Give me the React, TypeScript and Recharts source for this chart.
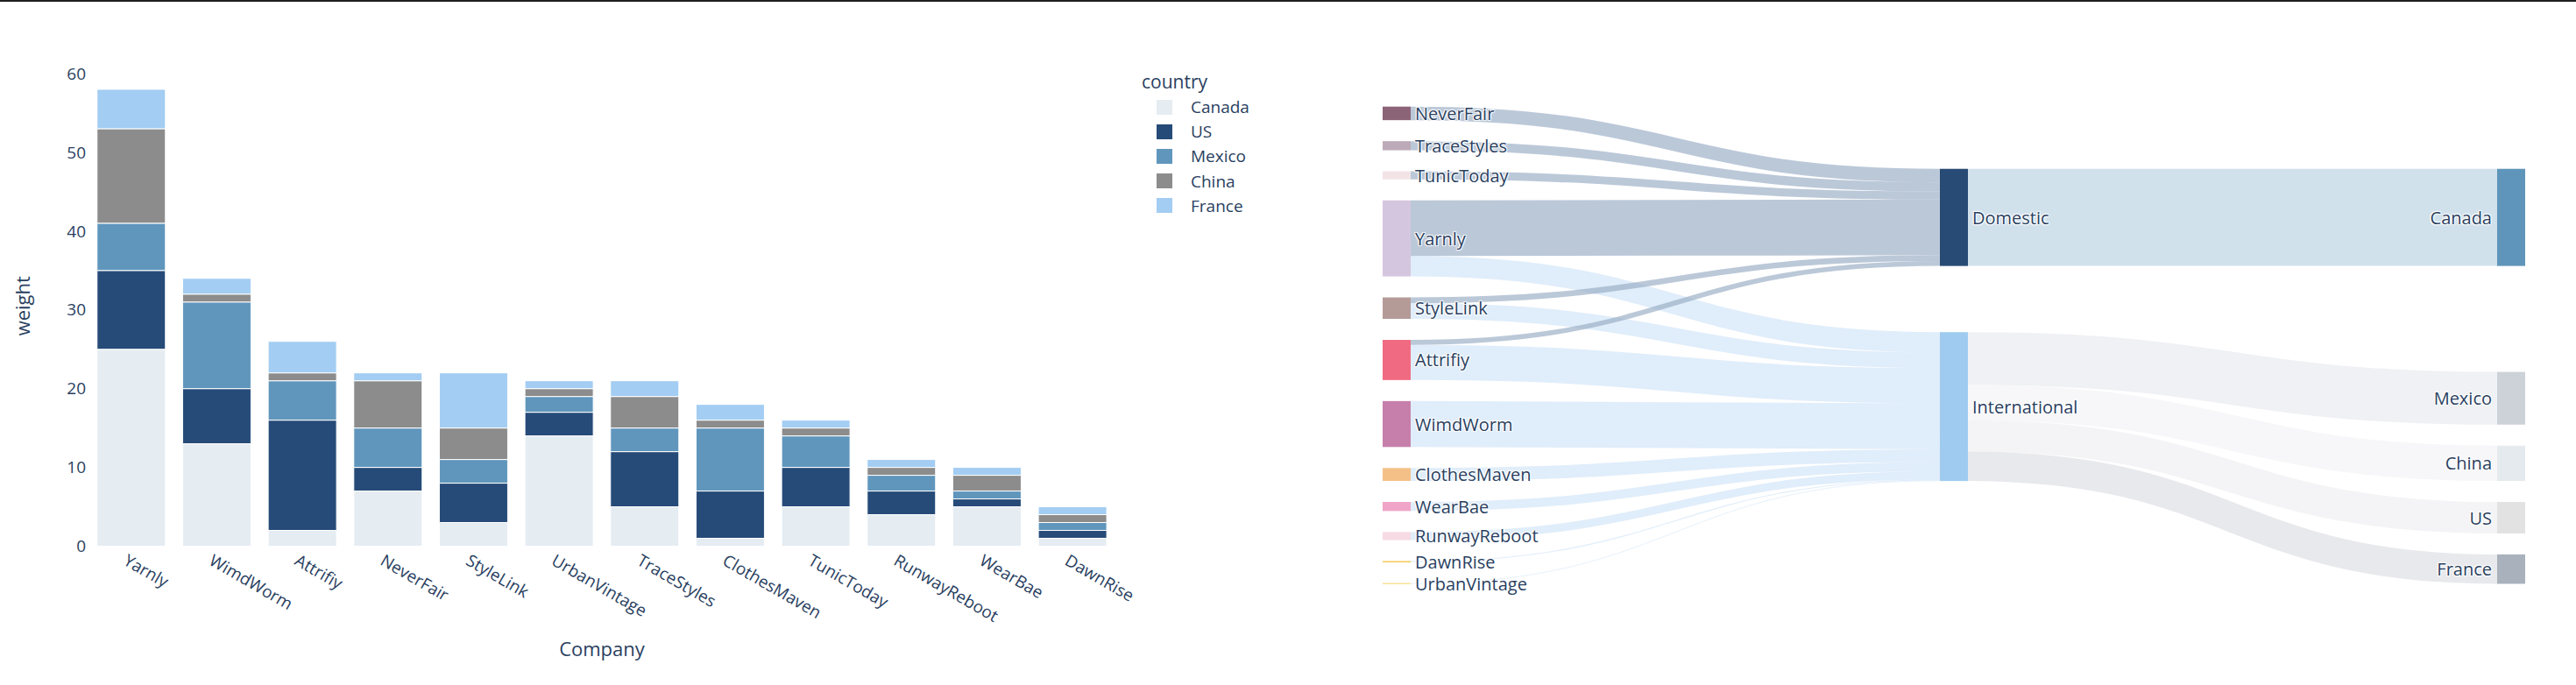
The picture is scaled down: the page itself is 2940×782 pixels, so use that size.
import React from "react";
import { Bar, BarChart, Sankey, XAxis, YAxis } from "recharts";

// bar chart: weight per company, stacked by country
const companies = [
  "Yarnly", "WimdWorm", "Attrifiy", "NeverFair", "StyleLink", "UrbanVintage",
  "TraceStyles", "ClothesMaven", "TunicToday", "RunwayReboot", "WearBae", "DawnRise",
];
const canada = [25, 13, 2, 7, 3, 14, 5, 1, 5, 4, 5, 1];
const us = [10, 7, 14, 3, 5, 3, 7, 6, 5, 3, 1, 1];
const mexico = [6, 11, 5, 5, 3, 2, 3, 8, 4, 2, 1, 1];
const china = [12, 1, 1, 6, 4, 1, 4, 1, 1, 1, 2, 1];
const france = [5, 2, 4, 1, 7, 1, 2, 2, 1, 1, 1, 1];
const yTicks = [0, 10, 20, 30, 40, 50, 60];

const countryKeys = ["Canada", "US", "Mexico", "China", "France"];
const countryColors = ["#e5ecf2", "#264b78", "#6096bc", "#8c8c8c", "#a3cdf2"];
const seriesValues = [canada, us, mexico, china, france];

// sankey: company -> market -> destination
const sankeySources = [
  "NeverFair", "TraceStyles", "TunicToday", "Yarnly", "StyleLink", "Attrifiy",
  "WimdWorm", "ClothesMaven", "WearBae", "RunwayReboot", "DawnRise", "UrbanVintage",
];
const toDomestic = [8.2, 5.5, 4.9, 33.7, 3.5, 3, 0, 0, 0, 0, 0, 0];
const toInternational = [0, 0, 0, 12.3, 9.5, 21.3, 27.8, 7.8, 5.5, 4.9, 0.6, 0.4];
const markets = ["Domestic", "International"];
const destinations = ["Canada", "Mexico", "China", "US", "France"];
const domesticTo = [58.8, 0, 0, 0, 0];
const internationalTo = [0, 31.9, 21.4, 19.0, 17.8];

const nodeColors: Record<string, string> = {
  NeverFair: "#8c6478",
  TraceStyles: "#bdaab8",
  TunicToday: "#f2e4e6",
  Yarnly: "#d5c6df",
  StyleLink: "#b59b98",
  Attrifiy: "#f06b82",
  WimdWorm: "#c67faa",
  ClothesMaven: "#f5c088",
  WearBae: "#f0a4c8",
  RunwayReboot: "#f7dbe4",
  DawnRise: "#f5b820",
  UrbanVintage: "#f5c840",
  Domestic: "#274b74",
  International: "#9fcbf0",
  Canada: "#5f95ba",
  Mexico: "#cdd2d9",
  China: "#e5eaee",
  US: "#e2e2e2",
  France: "#a9b2bc",
};

const countryLinkColors: Record<string, string> = {
  Canada: "rgba(170,200,220,0.55)",
  Mexico: "rgba(232,235,239,0.7)",
  China: "rgba(243,244,246,0.7)",
  US: "rgba(240,240,242,0.7)",
  France: "rgba(224,226,230,0.75)",
};

const FONT = '"Open Sans", verdana, arial, sans-serif';
const TEXT = "#2a3f5f";

const barData = companies.map((name, i) => {
  const row: Record<string, string | number> = { name };
  countryKeys.forEach((k, j) => {
    row[k] = seriesValues[j][i];
  });
  return row;
});

const nodeNames = [...sankeySources, ...markets, ...destinations];
const sankeyNodes = nodeNames.map((name) => ({ name }));
const sankeyLinks: { source: number; target: number; value: number }[] = [];
const domIdx = sankeySources.length;
const intIdx = domIdx + 1;
const destStart = domIdx + 2;
sankeySources.forEach((_, i) => {
  if (toDomestic[i] > 0) sankeyLinks.push({ source: i, target: domIdx, value: toDomestic[i] });
  if (toInternational[i] > 0) sankeyLinks.push({ source: i, target: intIdx, value: toInternational[i] });
});
destinations.forEach((_, i) => {
  if (domesticTo[i] > 0) sankeyLinks.push({ source: domIdx, target: destStart + i, value: domesticTo[i] });
  if (internationalTo[i] > 0) sankeyLinks.push({ source: intIdx, target: destStart + i, value: internationalTo[i] });
});

function AngledTick(props: any) {
  const { x, y, payload } = props;
  return (
    <text
      x={x - 3}
      y={y}
      transform={`rotate(30 ${x - 3} ${y})`}
      textAnchor="start"
      dy="0.75em"
      fill={TEXT}
      fontSize={19}
      fontFamily={FONT}
    >
      {payload.value}
    </text>
  );
}

function SankeyNode(props: any) {
  const { x, y, width, height, payload } = props;
  const onRight = destinations.includes(payload.name);
  return (
    <g>
      <rect x={x} y={y} width={width} height={Math.max(height, 0.8)} fill={nodeColors[payload.name]} />
      <text
        x={onRight ? x - 6 : x + width + 5}
        y={y + height / 2}
        textAnchor={onRight ? "end" : "start"}
        dominantBaseline="central"
        fill={TEXT}
        fontSize={20}
        fontFamily={FONT}
        style={{
          textShadow: "1px 1px 1px #fff, -1px -1px 1px #fff, 1px -1px 1px #fff, -1px 1px 1px #fff",
        }}
      >
        {payload.name}
      </text>
    </g>
  );
}

function SankeyLink(props: any) {
  const { sourceX, targetX, sourceY, targetY, sourceControlX, targetControlX, linkWidth, payload } = props;
  const src = payload.source.name;
  const tgt = payload.target.name;
  let color = "rgba(160,200,240,0.33)";
  if (tgt === "Domestic") color = "rgba(150,170,195,0.65)";
  else if (src === "Domestic" || src === "International") color = countryLinkColors[tgt];
  return (
    <path
      d={`M${sourceX},${sourceY}C${sourceControlX},${sourceY} ${targetControlX},${targetY} ${targetX},${targetY}`}
      fill="none"
      stroke={color}
      strokeWidth={Math.max(linkWidth, 0.8)}
    />
  );
}

export default function App() {
  return (
    <div style={{ position: "absolute", left: 0, top: 0, width: 2940, height: 782, background: "#fff", fontFamily: FONT }}>
      <div style={{ position: "absolute", left: 0, top: 0, width: 2940, height: 2, background: "#1e1e1e" }} />
      <div style={{ position: "absolute", left: 0, top: 0 }}>
        <BarChart
          width={1300}
          height={782}
          data={barData}
          margin={{ top: 75, right: 27, left: 0, bottom: 0 }}
          barCategoryGap="10%"
        >
          <XAxis
            dataKey="name"
            height={158.5}
            interval={0}
            tickLine={false}
            axisLine={false}
            tick={<AngledTick />}
            label={{ value: "Company", position: "insideBottom", offset: 33, fill: TEXT, fontSize: 22, fontFamily: FONT }}
          />
          <YAxis
            width={101}
            domain={[0, 61]}
            ticks={yTicks}
            tickLine={false}
            axisLine={false}
            tickSize={0}
            tickMargin={3}
            tick={{ fill: TEXT, fontSize: 19, fontFamily: FONT }}
            label={{
              value: "weight",
              angle: -90,
              position: "insideLeft",
              offset: 26,
              fill: TEXT,
              fontSize: 22,
              fontFamily: FONT,
              style: { textAnchor: "middle" },
            }}
          />
          {countryKeys.map((k, i) => (
            <Bar
              key={k}
              dataKey={k}
              stackId="a"
              fill={countryColors[i]}
              stroke="#fff"
              strokeWidth={1}
              isAnimationActive={false}
            />
          ))}
        </BarChart>
      </div>
      <div style={{ position: "absolute", left: 1303, top: 79, color: TEXT }}>
        <div style={{ fontSize: 21, height: 29, lineHeight: "28px" }}>country</div>
        {countryKeys.map((k, i) => (
          <div key={k} style={{ display: "flex", alignItems: "center", height: 28.2 }}>
            <span style={{ display: "inline-block", width: 18, height: 17, marginLeft: 17, marginRight: 21, background: countryColors[i] }} />
            <span style={{ fontSize: 19 }}>{k}</span>
          </div>
        ))}
      </div>
      <div style={{ position: "absolute", left: 1500, top: 0 }}>
        <Sankey
          width={1440}
          height={782}
          data={{ nodes: sankeyNodes, links: sankeyLinks }}
          nodeWidth={32}
          nodePadding={24}
          iterations={32}
          sort={false}
          margin={{ top: 121.7, bottom: 115.5, left: 78, right: 58 }}
          node={<SankeyNode />}
          link={<SankeyLink />}
        />
      </div>
    </div>
  );
}
